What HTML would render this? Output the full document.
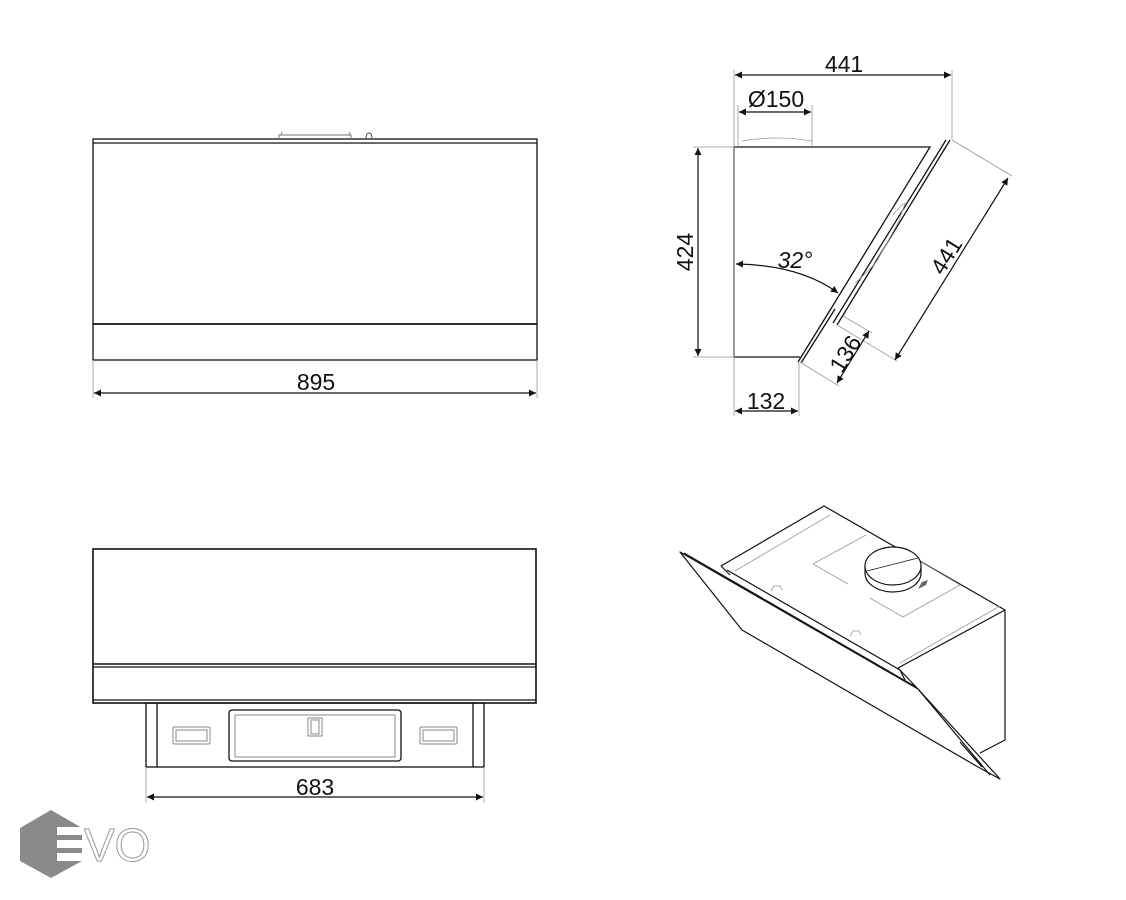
<!DOCTYPE html>
<html><head><meta charset="utf-8"><style>
html,body{margin:0;padding:0;background:#fff}
svg{display:block}
text{font-family:"Liberation Sans",sans-serif;fill:#111}
</style></head><body>
<svg width="1126" height="900" viewBox="0 0 1126 900" xmlns="http://www.w3.org/2000/svg">
<defs>
<marker id="a" viewBox="0 0 10 10" refX="10" refY="5" markerWidth="10" markerHeight="7" orient="auto-start-reverse" markerUnits="userSpaceOnUse"><path d="M0,0 L10,5 L0,10 z" fill="#111"/></marker>
</defs>
<g fill="none" stroke="#111" stroke-width="1.3">
<rect x="93" y="139" width="444" height="221"/>
<line x1="93" y1="143" x2="537" y2="143"/>
<line x1="93" y1="324" x2="537" y2="324" stroke-width="1.8"/>
<path d="M279,139 v-4 h72 v4 M281,135 l1,-3 M349,135 l1,-3" stroke="#777" stroke-width="1"/>
<path d="M366,139 q0,-6 3,-6 q3,0 3,6" stroke="#555" stroke-width="1"/>
</g>
<g stroke="#999" stroke-width="0.8"><line x1="93" y1="360" x2="93" y2="398"/><line x1="537" y1="360" x2="537" y2="398"/></g>
<line x1="94" y1="393" x2="536" y2="393" stroke="#111" stroke-width="1.2" marker-start="url(#a)" marker-end="url(#a)"/>
<text x="316" y="390" font-size="23" text-anchor="middle">895</text>

<g fill="none" stroke="#111" stroke-width="1.3">
<rect x="93" y="549" width="443" height="154" stroke-width="1.6"/>
<line x1="93" y1="664" x2="536" y2="664" stroke-width="1.6"/>
<line x1="93" y1="667" x2="536" y2="667"/>
<line x1="93" y1="700" x2="536" y2="700"/>
<rect x="146" y="703" width="338" height="64"/>
<line x1="157" y1="703" x2="157" y2="767"/>
<line x1="473" y1="703" x2="473" y2="767"/>
<rect x="229" y="710" width="172" height="51" rx="3"/>
</g>
<g fill="none" stroke="#888" stroke-width="1">
<rect x="235" y="715" width="160" height="42"/>
<rect x="308" y="718" width="14" height="18"/><rect x="311" y="720" width="8" height="14"/>
<rect x="173" y="727" width="37" height="17" rx="1.5"/><rect x="176" y="730" width="31" height="11"/>
<rect x="420" y="727" width="37" height="17" rx="1.5"/><rect x="423" y="730" width="31" height="11"/>
</g>
<g stroke="#999" stroke-width="0.8"><line x1="146" y1="767" x2="146" y2="803"/><line x1="484" y1="767" x2="484" y2="803"/></g>
<line x1="147" y1="797" x2="483" y2="797" stroke="#111" stroke-width="1.2" marker-start="url(#a)" marker-end="url(#a)"/>
<text x="315" y="795" font-size="23" text-anchor="middle">683</text>

<polygon points="51,810 82,828 82,861 51,878 20,861 20,828" fill="#8a8a8a"/>
<g fill="#fff"><rect x="57" y="827" width="26" height="8"/><rect x="57" y="840" width="26" height="8"/><rect x="57" y="853" width="26" height="8"/></g>
<text x="84" y="861" font-size="46" stroke="#999" stroke-width="1" style="fill:#fff">VO</text>

<g fill="none" stroke="#111" stroke-width="1.3">
<path d="M734,147 H930 L832,307 M734,147 V357 H800"/>
<path d="M950,140 L837,325 M946,140 L833,323 M832,307 L798,362 M835,309 L801,363"/>
</g>
<path d="M742,141 q35,-6 70,0" fill="none" stroke="#999" stroke-width="0.8"/>
<path d="M893,215 q8,-10 12,-12 l-6,18 l-22,40 q-10,12 -22,22" fill="none" stroke="#aaa" stroke-width="0.8"/>
<g stroke="#999" stroke-width="0.8">
<line x1="734" y1="70" x2="734" y2="416"/>
<line x1="738" y1="105" x2="738" y2="147"/>
<line x1="812" y1="105" x2="812" y2="147"/>
<line x1="952" y1="70" x2="952" y2="140"/>
<line x1="693" y1="147" x2="734" y2="147"/>
<line x1="693" y1="357" x2="734" y2="357"/>
<line x1="799" y1="362" x2="799" y2="416"/>
<line x1="952" y1="140" x2="1012" y2="176"/>
<line x1="837" y1="325" x2="897" y2="361"/>
<line x1="843" y1="316" x2="872" y2="333"/>
<line x1="800" y1="362" x2="839" y2="386"/>
</g>
<g stroke="#111" stroke-width="1.2" fill="none">
<line x1="735" y1="75" x2="951" y2="75" marker-start="url(#a)" marker-end="url(#a)"/>
<line x1="739" y1="112" x2="811" y2="112" marker-start="url(#a)" marker-end="url(#a)"/>
<line x1="698" y1="148" x2="698" y2="356" marker-start="url(#a)" marker-end="url(#a)"/>
<line x1="735" y1="411" x2="798" y2="411" marker-start="url(#a)" marker-end="url(#a)"/>
<line x1="1008" y1="178" x2="895" y2="360" marker-start="url(#a)" marker-end="url(#a)"/>
<line x1="869" y1="331" x2="837" y2="383" marker-start="url(#a)" marker-end="url(#a)"/>
<path d="M736,264 Q800,265 838,293" marker-start="url(#a)" marker-end="url(#a)"/>
</g>
<text x="844" y="72" font-size="23" text-anchor="middle">441</text>
<text x="776" y="107" font-size="23" text-anchor="middle">Ø150</text>
<text x="766" y="409" font-size="23" text-anchor="middle">132</text>
<text x="795" y="268" font-size="23" text-anchor="middle" font-style="italic">32°</text>
<text transform="translate(693,252) rotate(-90)" font-size="23" text-anchor="middle">424</text>
<text transform="translate(953,260) rotate(-58)" font-size="23" text-anchor="middle">441</text>
<text transform="translate(852,358) rotate(-58)" font-size="23" text-anchor="middle">136</text>

<g fill="none" stroke="#111" stroke-width="1.2" stroke-linejoin="round">
<path d="M721,566 L824,506 L1005,610 L898,668"/>
<path d="M1005,610 V740 L980,753"/>
<path d="M898,668 L918,689"/>
<path d="M721,566 L730,575"/>
<polygon points="680,552 918,689 1000,779 978,767 742,630"/>
<path d="M684,553 L916,687"/>
<path d="M918,689 L990,775 M960,742 L982,767"/>
<path d="M727,570 L900,670 L905,680"/>
<path d="M865,566 v7 a28,19 0 0 0 56,0 v-7"/>
<ellipse cx="893" cy="566" rx="28" ry="19" fill="#fff"/>
<path d="M867,571 L918,558" stroke-width="0.8"/>
</g>
<g fill="none" stroke="#999" stroke-width="0.8">
<path d="M813,564 L866,535 M921,562 L960,585 L903,617 L870,598 M813,564 L848,584"/>
<path d="M735,571 L830,515 M900,663 L1000,606"/>
<path d="M771,591 l3,-5 h6 l2,4 M850,636 l3,-5 h6 l2,4"/>
</g>
<path d="M918,589 l8,-4 l2,-5 l-6,2 z" fill="#666"/>
</svg>
</body></html>
